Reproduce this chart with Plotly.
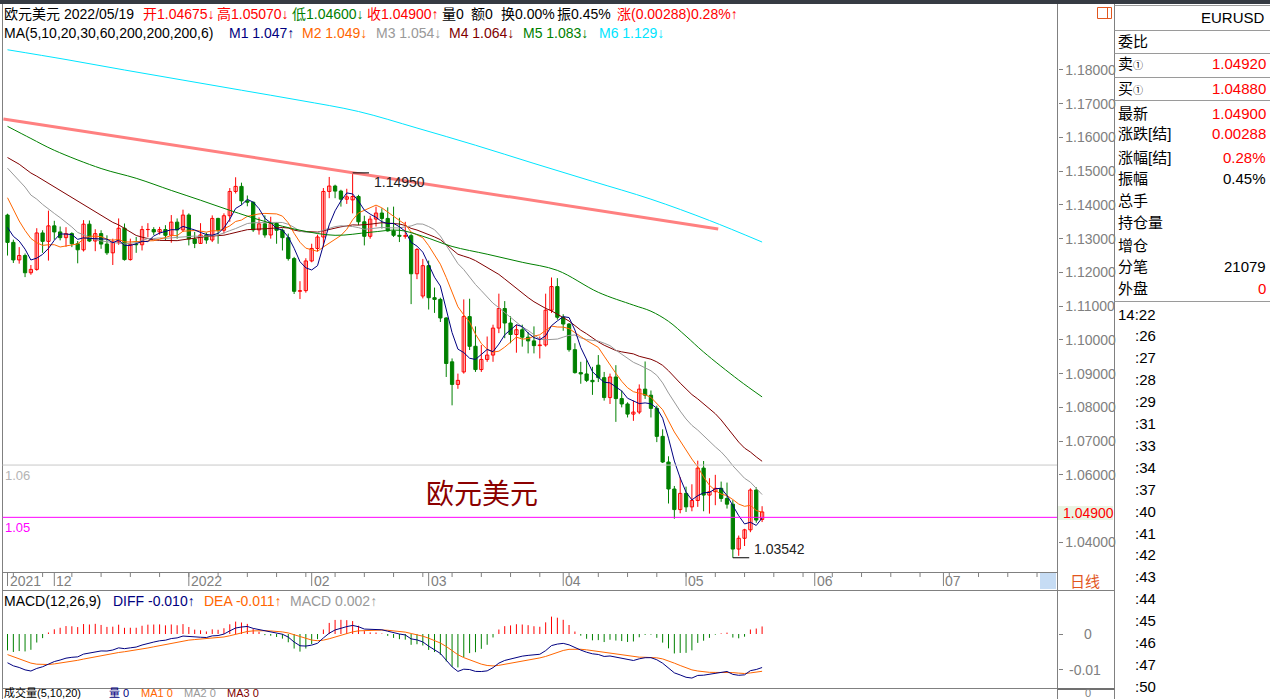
import pandas as pd
import plotly.graph_objects as go

W, H = 1270, 699
FONT = "Liberation Sans, Arial, Noto Sans CJK SC, sans-serif"
RED, GREEN, NAVY, ORANGE = "#ff0000", "#008000", "#000080", "#ff6600"
GREY, MAROON, CYAN, AXC = "#999999", "#800000", "#00e5ff", "#808080"

# ---------------- data (EURUSD daily, 2021-11-19 .. 2022-05-19) ----------------
dates = pd.bdate_range("2021-11-19", "2022-05-19")
open_ = [1.1370,1.1289,1.1237,1.1250,1.1199,1.1209,1.1317,1.1292,1.1338,1.1320,
 1.1303,1.1315,1.1285,1.1267,1.1343,1.1293,1.1315,1.1284,1.1258,1.1290,
 1.1331,1.1238,1.1283,1.1282,1.1327,1.1327,1.1320,1.1327,1.1310,1.1349,
 1.1326,1.1370,1.1299,1.1286,1.1311,1.1296,1.1360,1.1325,1.1368,1.1440,
 1.1455,1.1412,1.1408,1.1326,1.1344,1.1311,1.1345,1.1325,1.1303,1.1241,
 1.1144,1.1146,1.1234,1.1271,1.1305,1.1440,1.1456,1.1441,1.1417,1.1415,
 1.1425,1.1350,1.1307,1.1358,1.1376,1.1360,1.1323,1.1310,1.1307,1.1309,
 1.1196,1.1130,1.1220,1.1125,1.1120,1.1065,1.0935,1.0868,1.0905,1.1069,
 1.0981,1.0912,1.0942,1.0955,1.1035,1.1093,1.1050,1.1016,1.1030,1.1008,
 1.0997,1.0983,1.0985,1.1088,1.1158,1.1067,1.1047,1.0971,1.0903,1.0899,
 1.0880,1.0925,1.0888,1.0829,1.0890,1.0826,1.0810,1.0780,1.0786,1.0854,
 1.0836,1.0797,1.0714,1.0638,1.0558,1.0497,1.0545,1.0505,1.0524,1.0620,
 1.0540,1.0550,1.0560,1.0530,1.0513,1.0380,1.0412,1.0437,1.0555,1.04675]
high = [1.1374,1.1297,1.1275,1.1256,1.1222,1.1331,1.1325,1.1383,1.1353,1.1336,
 1.1334,1.1319,1.1293,1.1355,1.1354,1.1328,1.1325,1.1310,1.1300,1.1360,
 1.1345,1.1300,1.1305,1.1338,1.1346,1.1334,1.1335,1.1340,1.1370,1.1360,
 1.1386,1.1375,1.1320,1.1346,1.1318,1.1369,1.1362,1.1375,1.1450,1.1482,
 1.1466,1.1428,1.1410,1.1363,1.1369,1.1365,1.1348,1.1330,1.1315,1.1246,
 1.1174,1.1242,1.1285,1.1312,1.1450,1.1483,1.1460,1.1445,1.1448,1.1495,
 1.1430,1.1368,1.1368,1.1395,1.1390,1.1393,1.1395,1.1362,1.1350,1.1315,
 1.1272,1.1240,1.1235,1.1155,1.1125,1.1067,1.0945,1.0900,1.1120,1.1122,
 1.1040,1.0985,1.1010,1.1045,1.1137,1.1115,1.1070,1.1045,1.1045,1.1023,
 1.1040,1.1010,1.1137,1.1185,1.1183,1.1076,1.1050,1.0990,1.0935,1.0940,
 1.0920,1.0955,1.0905,1.0900,1.0925,1.0850,1.0815,1.0820,1.0868,1.0936,
 1.0850,1.0805,1.0735,1.0655,1.0567,1.0593,1.0565,1.0572,1.0642,1.0641,
 1.0590,1.0600,1.0580,1.0577,1.0525,1.0420,1.0440,1.0560,1.0563,1.0507]
low = [1.1250,1.1228,1.1226,1.1186,1.1193,1.1205,1.1258,1.1235,1.1297,1.1295,
 1.1276,1.1275,1.1227,1.1262,1.1290,1.1263,1.1270,1.1252,1.1222,1.1282,
 1.1235,1.1235,1.1258,1.1265,1.1304,1.1311,1.1312,1.1295,1.1288,1.1300,
 1.1320,1.1280,1.1272,1.1285,1.1285,1.1290,1.1285,1.1315,1.1350,1.1434,
 1.1400,1.1396,1.1320,1.1312,1.1303,1.1300,1.1285,1.1265,1.1235,1.1136,
 1.1121,1.1140,1.1230,1.1262,1.1275,1.1420,1.1420,1.1395,1.1403,1.1375,
 1.1340,1.1280,1.1300,1.1336,1.1330,1.1321,1.1305,1.1290,1.1300,1.1106,
 1.1180,1.1123,1.1090,1.1080,1.1053,1.0890,1.0806,1.0855,1.0900,1.0970,
 1.0905,1.0905,1.0935,1.0935,1.1020,1.1005,1.0990,1.0962,1.0980,1.0960,
 1.0960,1.0945,1.0980,1.1080,1.1060,1.1027,1.0965,1.0900,1.0870,1.0875,
 1.0837,1.0875,1.0820,1.0810,1.0757,1.0800,1.0770,1.0760,1.0780,1.0825,
 1.0770,1.0697,1.0635,1.0515,1.0470,1.0486,1.0490,1.0492,1.0505,1.0492,
 1.0485,1.0510,1.0520,1.0500,1.03542,1.0360,1.0389,1.0430,1.0458,1.0460]
close = [1.1289,1.1237,1.1250,1.1199,1.1209,1.1317,1.1292,1.1338,1.1320,1.1303,
 1.1315,1.1285,1.1267,1.1343,1.1293,1.1315,1.1284,1.1258,1.1290,1.1331,
 1.1238,1.1283,1.1282,1.1327,1.1327,1.1320,1.1327,1.1310,1.1349,1.1326,
 1.1370,1.1299,1.1286,1.1311,1.1296,1.1360,1.1325,1.1368,1.1440,1.1455,
 1.1412,1.1408,1.1326,1.1344,1.1311,1.1345,1.1325,1.1303,1.1241,1.1144,
 1.1146,1.1234,1.1271,1.1305,1.1440,1.1456,1.1441,1.1417,1.1424,1.1425,
 1.1350,1.1307,1.1358,1.1376,1.1360,1.1323,1.1310,1.1307,1.1309,1.1196,
 1.1268,1.1220,1.1125,1.1120,1.1065,1.0930,1.0868,1.0880,1.1069,1.0981,
 1.0912,1.0942,1.0955,1.1035,1.1093,1.1050,1.1016,1.1030,1.1008,1.0997,
 1.0983,1.0985,1.1088,1.1158,1.1067,1.1047,1.0971,1.0903,1.0899,1.0880,
 1.0876,1.0888,1.0829,1.0890,1.0826,1.0810,1.0780,1.0786,1.0854,1.0836,
 1.0797,1.0714,1.0638,1.0558,1.0497,1.0545,1.0505,1.0524,1.0620,1.0540,
 1.0550,1.0560,1.0530,1.0513,1.0380,1.0412,1.0437,1.0555,1.0466,1.0490]
# closes before the visible window (2021-09-01 .. 2021-11-18), used only as MA / MACD history
pre_close = [1.1843,1.1875,1.1880,1.1868,1.1839,1.1818,1.1825,1.1813,1.1806,1.1804,
 1.1821,1.1763,1.1726,1.1727,1.1725,1.1689,1.1738,1.1720,1.1696,1.1683,
 1.1597,1.1580,1.1595,1.1620,1.1598,1.1553,1.1553,1.1572,1.1552,1.1529,
 1.1594,1.1597,1.1601,1.1608,1.1635,1.1654,1.1622,1.1644,1.1608,1.1597,
 1.1603,1.1682,1.1558,1.1606,1.1580,1.1611,1.1554,1.1567,1.1587,1.1590,
 1.1479,1.1446,1.1445,1.1369,1.1320,1.1319,1.1370]
# long moving averages at sample candles
ma60_idx = [0, 4, 8, 16, 22, 28, 33, 38, 44, 50, 56, 62, 67, 71, 76, 82, 88, 94, 101, 107, 110, 113, 116, 119, 125, 129]
ma60_val = [1.1633, 1.1597, 1.1562, 1.1508, 1.1479, 1.1443, 1.1414, 1.1384, 1.1351, 1.1325, 1.1310, 1.1319, 1.1325,
            1.1307, 1.1277, 1.1254, 1.1230, 1.1206, 1.1141, 1.1103, 1.1085, 1.1055, 1.1011, 1.0964, 1.0881, 1.0831]
ma200_idx = [0, 10, 20, 30, 40, 50, 60, 70, 80, 90, 100, 110, 120, 129]
ma200_val = [1.1860, 1.1831, 1.1800, 1.1770, 1.1740, 1.1710, 1.1677, 1.1628, 1.1577, 1.1523, 1.1470, 1.1417, 1.1354, 1.1290]
trend_idx = [-0.7, 121.5]
trend_val = [1.16548, 1.13289]
month_labels = ["2021", "12", "2022", "02", "03", "04", "05", "06", "07"]
price_ticks = [1.04, 1.06, 1.07, 1.08, 1.09, 1.10, 1.11, 1.12, 1.13, 1.14, 1.15, 1.16, 1.17, 1.18]
hi_idx, hi_val = 59, 1.14950
lo_idx, lo_val = 124, 1.03542
grey_level, pink_level = 1.0629, 1.0474
last_price = 1.04900

# ---------------- indicators ----------------
n_pre = len(pre_close)
s = pd.Series(pre_close + close)
idx = list(range(len(close)))
ma = {p: s.rolling(p).mean().iloc[n_pre:].tolist() for p in (5, 10, 20, 30)}
ema12 = s.ewm(span=12, adjust=False).mean()
ema26 = s.ewm(span=26, adjust=False).mean()
diff = ema12 - ema26
dea = diff.ewm(span=9, adjust=False).mean()
hist = 2 * (diff - dea)
diff_v, dea_v, hist_v = diff.iloc[n_pre:].tolist(), dea.iloc[n_pre:].tolist(), hist.iloc[n_pre:].tolist()

# ---------------- geometry helpers ----------------
def px(x): return x / W
def py(y): return 1 - y / H

P_TOP = 1.18 + (70 - 5) / 3374
P_BOT = 1.04 - (572 - 542.3) / 3374
X_RANGE = [-0.855, 179.5]
M_TOP, M_BOT = (634 - 590) / 3550, -(688 - 634) / 3550

fig = go.Figure()

up = [i for i in idx if close[i] >= open_[i]]
dn = [i for i in idx if close[i] < open_[i]]

def wicks(ids):
    xs, ys = [], []
    for i in ids:
        xs += [i, i, None]
        ys += [low[i], high[i], None]
    return xs, ys

for ids, col in ((up, RED), (dn, GREEN)):
    wx, wy = wicks(ids)
    fig.add_trace(go.Scatter(x=wx, y=wy, mode="lines", line=dict(color=col, width=1), xaxis="x", yaxis="y"))

fig.add_trace(go.Bar(x=up, base=[open_[i] for i in up], y=[max(close[i] - open_[i], 4e-5) for i in up],
                     width=0.56, marker=dict(color="white", line=dict(color=RED, width=1)), xaxis="x", yaxis="y"))
fig.add_trace(go.Bar(x=dn, base=[close[i] for i in dn], y=[max(open_[i] - close[i], 4e-5) for i in dn],
                     width=0.56, marker=dict(color=GREEN, line=dict(color=GREEN, width=1)), xaxis="x", yaxis="y"))

for p, col in ((30, MAROON), (20, GREY), (10, ORANGE), (5, NAVY)):
    fig.add_trace(go.Scatter(x=idx, y=ma[p], mode="lines", line=dict(color=col, width=1), xaxis="x", yaxis="y"))
fig.add_trace(go.Scatter(x=ma60_idx, y=ma60_val, mode="lines", line=dict(color=GREEN, width=1, shape="spline"), xaxis="x", yaxis="y"))
fig.add_trace(go.Scatter(x=ma200_idx, y=ma200_val, mode="lines", line=dict(color=CYAN, width=1, shape="spline"), xaxis="x", yaxis="y"))

# MACD panel
for sign, col in ((1, RED), (-1, GREEN)):
    hx, hy = [], []
    for i in idx:
        if hist_v[i] * sign > 0:
            hx += [i, i, None]
            hy += [0, hist_v[i], None]
    fig.add_trace(go.Scatter(x=hx, y=hy, mode="lines", line=dict(color=col, width=1), xaxis="x2", yaxis="y2"))
fig.add_trace(go.Scatter(x=idx, y=dea_v, mode="lines", line=dict(color=ORANGE, width=1), xaxis="x2", yaxis="y2"))
fig.add_trace(go.Scatter(x=idx, y=diff_v, mode="lines", line=dict(color=NAVY, width=1), xaxis="x2", yaxis="y2"))

# ---------------- shapes ----------------
shapes = []
def pline(x0, y0, x1, y1, color=AXC, width=1):
    shapes.append(dict(type="line", xref="paper", yref="paper", x0=px(x0), y0=py(y0), x1=px(x1), y1=py(y1),
                       line=dict(color=color, width=width), layer="above"))
def prect(x0, y0, x1, y1, fill, line=None):
    shapes.append(dict(type="rect", xref="paper", yref="paper", x0=px(x0), y0=py(y0), x1=px(x1), y1=py(y1),
                       fillcolor=fill, line=dict(width=0) if line is None else dict(color=line, width=1), layer="above"))

prect(0, 0, 1270, 4, "#363b43")
pline(2.5, 4, 2.5, 699)
pline(1057.5, 4, 1057.5, 699)
pline(1114.5, 4, 1114.5, 699)
pline(2, 572.5, 1057.5, 572.5)
pline(2, 590.5, 1114.5, 590.5)
pline(2, 688.5, 1057.5, 688.5)
pline(1057.5, 689, 1114.5, 689, "#707070", 2)
for yy in (5.5, 30.5, 53.5, 77.5, 100.5, 301.5):
    pline(1114.5, yy, 1270, yy, "#9a9a9a")
prect(1040, 573, 1056, 589, "#c6dcf4")
prect(1058, 506, 1113, 520, "#eaf4e4")
prect(1097.5, 7.5, 1111.5, 18.5, "rgba(0,0,0,0)", "#e2561e")
pline(1107.5, 7.5, 1107.5, 18.5, "#e2561e")

# horizontal drawn levels
for lvl, col in ((grey_level, "#c8c8c8"), (pink_level, "#ff00ff")):
    shapes.append(dict(type="line", xref="paper", yref="y", x0=px(2.5), x1=px(1057), y0=lvl, y1=lvl,
                       line=dict(color=col, width=1)))
# trend line
shapes.append(dict(type="line", xref="x", yref="y", x0=trend_idx[0], y0=trend_val[0], x1=trend_idx[1], y1=trend_val[1],
                   line=dict(color="#ff8080", width=3)))
# high / low markers
shapes.append(dict(type="line", xref="x", yref="y", x0=hi_idx, x1=hi_idx + 2.8, y0=hi_val, y1=hi_val, line=dict(color="#000", width=1)))
shapes.append(dict(type="line", xref="x", yref="y", x0=lo_idx, x1=lo_idx + 2.8, y0=lo_val, y1=lo_val, line=dict(color="#000", width=1)))

# date strip ticks
all_days = pd.bdate_range("2021-11-19", "2022-08-31")
month_pos = [0] + [k for k in range(1, len(all_days)) if all_days[k].month != all_days[k - 1].month]
week_pos = [k for k, d in enumerate(all_days) if d.weekday() == 0 and k <= X_RANGE[1]]
for k in week_pos:
    shapes.append(dict(type="line", xref="x", yref="paper", x0=k, x1=k, y0=py(573), y1=py(577), line=dict(color=AXC, width=1)))
for k in month_pos[:len(month_labels)]:
    shapes.append(dict(type="line", xref="x", yref="paper", x0=k, x1=k, y0=py(573), y1=py(586), line=dict(color=AXC, width=1)))

# ---------------- annotations ----------------
ann = []
def txt(x, y, s, color="#000", size=14, xanchor="left", yanchor="middle", xref="paper", yref="paper", xshift=0):
    ann.append(dict(x=px(x) if xref == "paper" else x, y=py(y) if yref == "paper" else y, xref=xref, yref=yref,
                    text=s, showarrow=False, xanchor=xanchor, yanchor=yanchor, borderpad=0, xshift=xshift,
                    font=dict(family=FONT, size=size, color=color)))

hdr1 = [(3, "欧元美元", "#000"), (63, "2022/05/19", "#000"), (142, "开1.04675↓", RED), (216, "高1.05070↓", RED),
        (291, "低1.04600↓", GREEN), (366, "收1.04900↑", RED), (441, "量0", "#000"), (470, "额0", "#000"),
        (500, "换0.00%", "#000"), (556, "振0.45%", "#000"), (616, "涨(0.00288)0.28%↑", RED)]
for x, s_, c in hdr1:
    txt(x, 14, s_, c)
hdr2 = [(3, "MA(5,10,20,30,60,200,200,200,6)", "#000"), (228, "M1 1.047↑", NAVY), (301, "M2 1.049↓", ORANGE),
        (375, "M3 1.054↓", GREY), (448, "M4 1.064↓", MAROON), (522, "M5 1.083↓", GREEN), (598, "M6 1.129↓", CYAN)]
for x, s_, c in hdr2:
    txt(x, 33, s_, c)
hdr3 = [(3, "MACD(12,26,9)", "#000"), (112, "DIFF -0.010↑", NAVY), (203, "DEA -0.011↑", ORANGE), (289, "MACD 0.002↑", GREY)]
for x, s_, c in hdr3:
    txt(x, 601, s_, c)
hdr4 = [(3, "成交量(5,10,20)", "#000"), (108, "量 0", NAVY), (140, "MA1 0", ORANGE), (183, "MA2 0", GREY), (226, "MA3 0", MAROON)]
for x, s_, c in hdr4:
    txt(x, 692.5, s_, c, 11)

txt(482, 494, "欧元美元", "#8b0000", 28, xanchor="center")
txt(4, 475, "1.06", "#b4b4b4", 13)
txt(4, 527, "1.05", "#ff00ff", 13)
ann.append(dict(x=hi_idx + 3.5, y=hi_val, xref="x", yref="y", text=f"{hi_val:.5f}", showarrow=False, xanchor="left",
                yanchor="top", borderpad=0, font=dict(family=FONT, size=14, color="#222")))
ann.append(dict(x=lo_idx + 3.5, y=lo_val, xref="x", yref="y", text=f"{lo_val:.5f}", showarrow=False, xanchor="left",
                yanchor="bottom", borderpad=0, font=dict(family=FONT, size=14, color="#222")))
txt(1062, 513, f"{last_price:.5f}", RED, 14)

for k, lab in zip(month_pos, month_labels):
    ann.append(dict(x=k, y=py(581), xref="x", yref="paper", text=lab, showarrow=False, xanchor="left",
                    yanchor="middle", xshift=1, borderpad=0, font=dict(family=FONT, size=14, color=AXC)))
txt(1085, 581, "日线", "#e2561e", 15, xanchor="center")
txt(1088, 634, "0", AXC, 14, xanchor="center")
txt(1085, 670, "-0.01", AXC, 14, xanchor="center")
txt(1088, 692.5, "0", AXC, 11, xanchor="center")

# right info panel
txt(1266, 17, "EURUSD", "#000", 15, xanchor="right")
panel_labels = ["委比", "卖<span style='font-size:10px'>①</span>", "买<span style='font-size:10px'>①</span>", "最新",
                "涨跌[结]", "涨幅[结]", "振幅", "总手", "持仓量", "增仓", "分笔", "外盘"]
panel_values = ["", "1.04920", "1.04880", "1.04900", "0.00288", "0.28%", "0.45%", "", "", "", "21079", "0"]
panel_colors = ["#000", RED, RED, RED, RED, RED, "#000", "#000", "#000", "#000", "#000", RED]
panel_y = [41, 63, 88, 113, 134, 157, 179, 200, 223, 245, 267, 288]
for lab, val, col, yy in zip(panel_labels, panel_values, panel_colors, panel_y):
    txt(1117, yy, lab, "#000", 15)
    if val:
        txt(1267, yy, val, col, 15, xanchor="right")
time_labels = ["14:22", ":26", ":27", ":28", ":29", ":31", ":33", ":34", ":37", ":40", ":41", ":42", ":43", ":44",
               ":45", ":46", ":47", ":50"]
for k, t in enumerate(time_labels):
    txt(1157, 314 + 21.9 * k, t, "#000", 15, xanchor="right")

fig.update_layout(
    width=W, height=H, margin=dict(l=0, r=0, t=0, b=0), paper_bgcolor="white", plot_bgcolor="white",
    showlegend=False, barmode="overlay", hovermode=False, shapes=shapes, annotations=ann,
    xaxis=dict(domain=[px(2.5), px(1057.5)], range=X_RANGE, visible=False, fixedrange=True),
    yaxis=dict(domain=[py(572), py(5)], range=[P_BOT, P_TOP], side="right", anchor="x",
               tickvals=price_ticks, ticktext=[f"{v:.5f}" for v in price_ticks], ticks="outside", ticklen=4,
               tickcolor=AXC, tickfont=dict(family=FONT, size=14, color=AXC), showgrid=False, zeroline=False,
               showline=False, fixedrange=True),
    xaxis2=dict(domain=[px(2.5), px(1057.5)], range=X_RANGE, visible=False, anchor="y2", fixedrange=True),
    yaxis2=dict(domain=[py(688), py(590)], range=[M_BOT, M_TOP], side="right", anchor="x2",
                tickvals=[0, -0.01], ticks="outside", ticklen=4, tickcolor=AXC, showticklabels=False,
                showgrid=False, zeroline=False, showline=False, fixedrange=True),
)

fig.write_html("out.html", config={"displayModeBar": False, "staticPlot": True},
               post_script="document.body.style.margin='0';document.body.style.overflow='hidden';")
